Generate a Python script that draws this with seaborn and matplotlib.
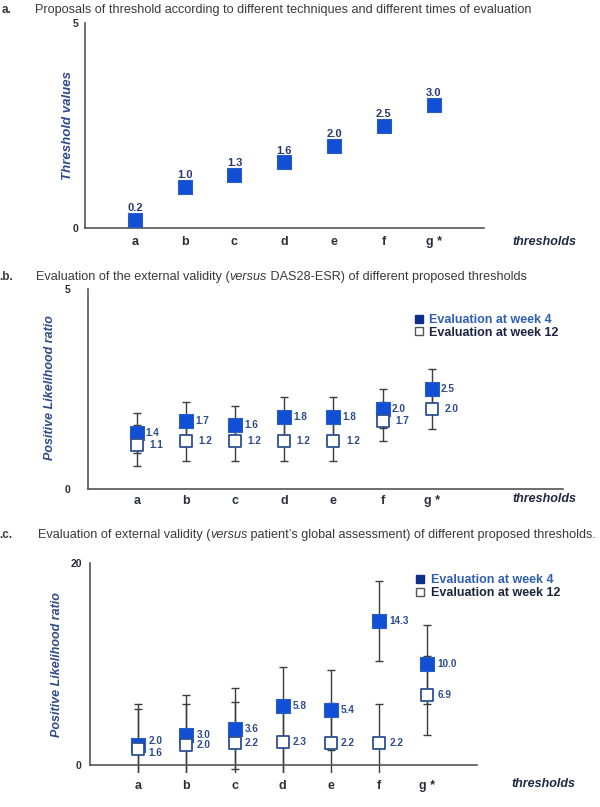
import numpy as np
import matplotlib
matplotlib.use("Agg")
import matplotlib.pyplot as plt
import seaborn as sns
from matplotlib.lines import Line2D

# ---------------- data ----------------
categories = ["a", "b", "c", "d", "e", "f", "g"]
tick_labels = ["a", "b", "c", "d", "e", "f", "g *"]

a_thresholds = [0.2, 1.0, 1.3, 1.6, 2.0, 2.5, 3.0]

b_week4 = [1.4, 1.7, 1.6, 1.8, 1.8, 2.0, 2.5]
b_week4_lo = [0.9, 1.2, 1.2, 1.2, 1.2, 1.52, 2.0]
b_week4_hi = [1.9, 2.18, 2.08, 2.3, 2.3, 2.49, 2.99]
b_week12 = [1.1, 1.2, 1.2, 1.2, 1.2, 1.7, 2.0]
b_week12_lo = [0.58, 0.7, 0.7, 0.7, 0.7, 1.2, 1.49]
b_week12_hi = [1.6, 1.7, 1.6, 1.8, 1.8, 2.18, 2.5]

c_week4 = [2.0, 3.0, 3.6, 5.8, 5.4, 14.3, 10.0]
c_week4_lo = [-1.0, -1.0, -0.37, -1.0, -1.0, 10.27, 6.04]
c_week4_hi = [6.04, 6.93, 7.62, 9.73, 9.4, 18.2, 13.86]
c_week12 = [1.6, 2.0, 2.2, 2.3, 2.2, 2.2, 6.9]
c_week12_lo = [-1.0, -1.0, -1.0, -1.0, 1.49, -1.0, 2.97]
c_week12_hi = [5.54, 6.04, 6.2, 5.8, 6.17, 6.04, 10.82]

legend_labels = ["Evaluation at week 4", "Evaluation at week 12"]

# ---------------- style ----------------
sns.set_theme(style="white")
plt.rcParams['font.family'] = ['Liberation Sans', 'DejaVu Sans']

W, H = 600, 807
fig = plt.figure(figsize=(6, 8.07), dpi=100)
fig.patch.set_facecolor('white')

FILL = '#1150d4'
FILL_EDGE = '#2a5cc4'
OPEN_EDGE = '#2d4f92'
WHISK = '#3d3d3d'
AXC = '#555555'
TXT = '#2b2f3a'
VAL = '#2c4c8c'
YLAB = '#2d4b8a'
MS = 94


def px_axes(l, r, t, b):
    return fig.add_axes([l / W, 1 - b / H, (r - l) / W, (b - t) / H])


def style_axes(ax, ymax, ypad, xpad):
    sns.despine(ax=ax)
    for s in ['left', 'bottom']:
        ax.spines[s].set_color(AXC)
        ax.spines[s].set_linewidth(1.2)
    ax.set_yticks([0, ymax])
    ax.set_yticklabels(["0", str(ymax)])
    ax.set_xticks(np.arange(len(categories)))
    ax.set_xticklabels(tick_labels)
    ax.tick_params(axis='y', direction='in', length=3, width=1, color=AXC,
                   labelsize=7.5, pad=ypad, labelcolor=TXT)
    ax.tick_params(axis='x', length=0, labelsize=9, pad=xpad, labelcolor=TXT)
    for lab in ax.get_yticklabels() + ax.get_xticklabels():
        lab.set_fontweight('bold')
    ax.set_facecolor('none')
    ax.grid(False)


def rich_text(x_px, y_px, parts, **kw):
    renderer = fig.canvas.get_renderer()
    x = x_px
    for s, style in parts:
        t = fig.text(x / W, 1 - y_px / H, s, style=style, va='center', ha='left', **kw)
        bb = t.get_window_extent(renderer=renderer)
        x = x + bb.width


pos = np.arange(len(categories))

# ---------------- panel a ----------------
axa = px_axes(85, 484, 23, 228)
sns.scatterplot(x=pos, y=a_thresholds, ax=axa, marker='s', s=MS, color=FILL,
                edgecolor=FILL_EDGE, linewidth=0.8, zorder=3, legend=False)
for i, v in enumerate(a_thresholds):
    axa.annotate(f"{v:.1f}", (pos[i], v), xytext=(0, 8.3), textcoords='offset points',
                 ha='center', va='center', fontsize=8, fontweight='bold', color='#263a6e')
axa.set_xlim(-1.0, 7.01)
axa.set_ylim(0, 5)
style_axes(axa, 5, 4.5, 6.0)
axa.set_ylabel("Threshold values", fontsize=9.5, fontweight='bold', style='italic',
               color=YLAB, va='center')
axa.yaxis.set_label_coords((68 - 85) / 399, (228 - 125) / 205)
axa.set_xlabel("thresholds", fontsize=9, fontweight='bold', style='italic', color='#1e2a44',
               va='center')
axa.xaxis.set_label_coords((544 - 85) / 399, (228 - 241.7) / 205)


def paired_panel(ax, w4, w4lo, w4hi, w12, w12lo, w12hi, off4, off12, nudge):
    ax.errorbar(pos, w4, yerr=[np.array(w4) - np.array(w4lo), np.array(w4hi) - np.array(w4)],
                fmt='none', ecolor=WHISK, elinewidth=1.0, capsize=2.9, capthick=1.0, zorder=1)
    ax.errorbar(pos, w12, yerr=[np.array(w12) - np.array(w12lo), np.array(w12hi) - np.array(w12)],
                fmt='none', ecolor=WHISK, elinewidth=1.0, capsize=2.9, capthick=1.0, zorder=1)
    sns.scatterplot(x=pos, y=w4, ax=ax, marker='s', s=MS, color=FILL,
                    edgecolor=FILL_EDGE, linewidth=0.8, zorder=3, legend=False)
    sns.scatterplot(x=pos, y=w12, ax=ax, marker='s', s=MS * 0.92, color='white',
                    edgecolor=OPEN_EDGE, linewidth=1.3, zorder=4, legend=False)
    for i in range(len(pos)):
        n4, n12 = nudge.get(i, (0, 0))
        ax.annotate(f"{w4[i]:.1f}", (pos[i], w4[i]), xytext=(off4, n4), textcoords='offset points',
                    ha='left', va='center', fontsize=7.2, fontweight='bold', color=VAL, zorder=5)
        ax.annotate(f"{w12[i]:.1f}", (pos[i], w12[i]), xytext=(off12, n12), textcoords='offset points',
                    ha='left', va='center', fontsize=7.2, fontweight='bold', color=VAL, zorder=5)


def add_legend(ax, sq_left_px, mid_y_px):
    handles = [Line2D([], [], linestyle='none', marker='s', markersize=6,
                      markerfacecolor='#0b2f8a', markeredgecolor='#0b2f8a'),
               Line2D([], [], linestyle='none', marker='s', markersize=6,
                      markerfacecolor='white', markeredgecolor='#555555', markeredgewidth=1.0)]
    leg = ax.legend(handles, legend_labels, loc='center left',
                    bbox_to_anchor=(sq_left_px / W, 1 - mid_y_px / H),
                    bbox_transform=fig.transFigure, frameon=False, borderpad=0,
                    borderaxespad=0, handlelength=0.8, handletextpad=0.46,
                    labelspacing=0.05, prop={'size': 9, 'weight': 'bold'})
    leg.get_texts()[0].set_color('#2f5fb3')
    leg.get_texts()[1].set_color('#1c2540')


# ---------------- panel b ----------------
axb = px_axes(87.5, 562.6, 289, 489)
paired_panel(axb, b_week4, b_week4_lo, b_week4_hi, b_week12, b_week12_lo, b_week12_hi,
             6.5, 9.0, {})
axb.set_xlim(-1.0, 8.66)
axb.set_ylim(0, 5)
style_axes(axb, 5, 12.5, 4.0)
axb.set_ylabel("Positive Likelihood ratio", fontsize=9, fontweight='bold', style='italic',
               color=YLAB, va='center')
axb.yaxis.set_label_coords((49.8 - 87.5) / 475.1, (489 - 388) / 200)
axb.set_xlabel("thresholds", fontsize=9, fontweight='bold', style='italic', color='#1e2a44',
               va='center')
axb.xaxis.set_label_coords((544 - 87.5) / 475.1, (489 - 499.3) / 200)
add_legend(axb, 413.5, 326.3)

# ---------------- panel c ----------------
axc = px_axes(90, 476.5, 563, 773)
paired_panel(axc, c_week4, c_week4_lo, c_week4_hi, c_week12, c_week12_lo, c_week12_hi,
             7.2, 7.2, {0: (3, -3)})
axc.set_xlim(-1.0, 7.02)
axc.set_ylim(-0.8, 20)
axc.spines['bottom'].set_position(('data', 0))
axc.spines['left'].set_bounds(0, 20)
style_axes(axc, 20, 6.0, 10.5)
axc.set_ylabel("Positive Likelihood ratio", fontsize=9, fontweight='bold', style='italic',
               color=YLAB, va='center')
axc.yaxis.set_label_coords((57.4 - 90) / 386.5, (773 - 665) / 210)
axc.set_xlabel("thresholds", fontsize=9, fontweight='bold', style='italic', color='#1e2a44',
               va='center')
axc.xaxis.set_label_coords((543 - 90) / 386.5, (773 - 784) / 210)
add_legend(axc, 415, 586.7)

# ---------------- titles ----------------
TCOL = '#3a3a3a'
fig.text(2 / W, 1 - 10 / H, "a.", fontsize=8.5, fontweight='bold', color=TCOL, va='center')
fig.text(-1 / W, 1 - 276.7 / H, ".b.", fontsize=8.5, fontweight='bold', color=TCOL, va='center')
fig.text(-1 / W, 1 - 535 / H, ".c.", fontsize=8.5, fontweight='bold', color=TCOL, va='center')

rich_text(35, 10, [("Proposals of threshold according to different techniques and different times of evaluation", 'normal')],
          fontsize=9.1, color=TCOL)
rich_text(36, 276.7, [("Evaluation of the external validity (", 'normal'), ("versus", 'italic'),
                      (" DAS28-ESR) of different proposed thresholds", 'normal')],
          fontsize=9.1, color=TCOL)
rich_text(37.5, 535, [("Evaluation of external validity (", 'normal'), ("versus", 'italic'),
                      (" patient\u2019s global assessment) of different proposed thresholds.", 'normal')],
          fontsize=9.1, color=TCOL)

fig.savefig("out.png", dpi=100, facecolor='white')
